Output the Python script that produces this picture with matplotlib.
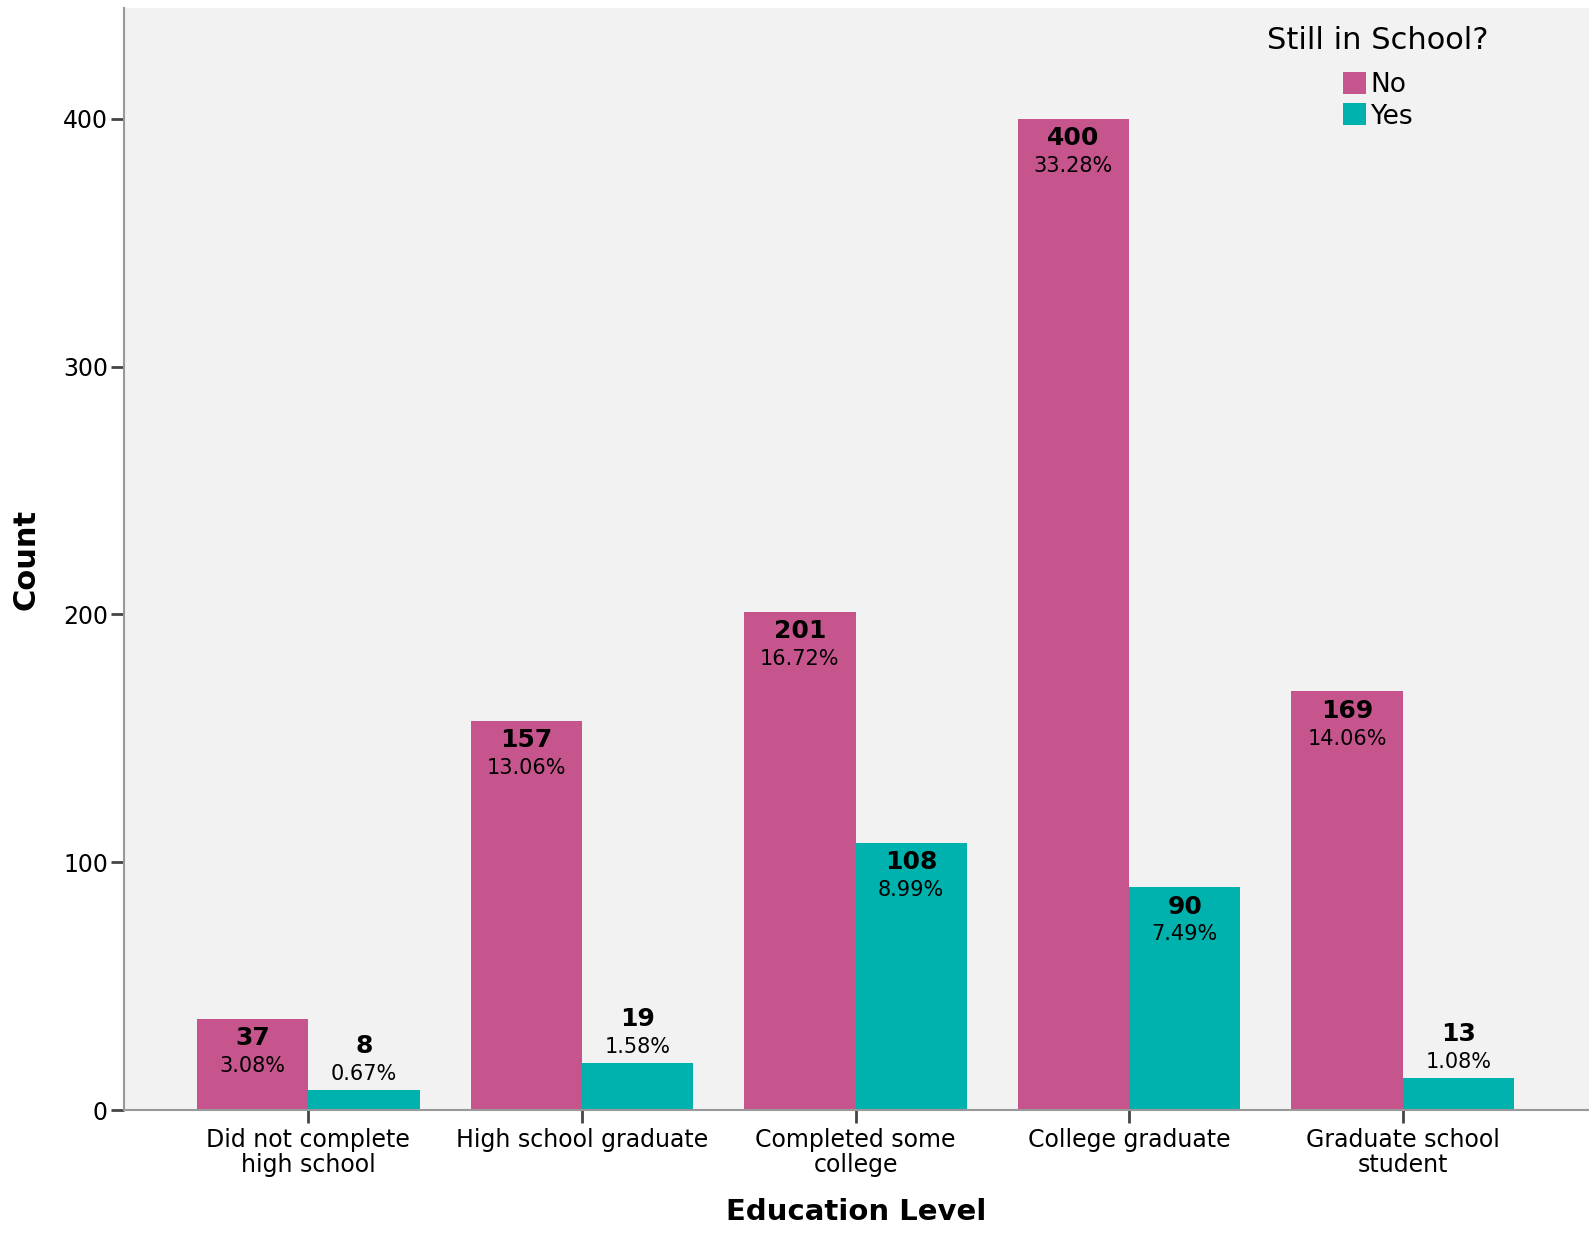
"""
Education level vs still in school - clustered bar chart
"""
import numpy as np
import matplotlib
matplotlib.use('Agg')
import matplotlib.pyplot as plt

categories = ['Did not complete\nhigh school', 'High school graduate',
              'Completed some\ncollege', 'College graduate',
              'Graduate school\nstudent']
groups = ['No', 'Yes']
counts_no = [37, 157, 201, 400, 169]
counts_yes = [8, 19, 108, 90, 13]
pct_no = ['3.08%', '13.06%', '16.72%', '33.28%', '14.06%']
pct_yes = ['0.67%', '1.58%', '8.99%', '7.49%', '1.08%']

colors = ['#C6558D', '#00B2AD']

plt.rcParams['font.family'] = ['DejaVu Sans']

fig = plt.figure(figsize=(15.89, 12.35), dpi=100)
ax = fig.add_axes([0.078, 0.101, 0.922, 0.8925])
ax.set_facecolor('#F2F2F2')

x = np.arange(len(categories))
w = 0.407


def put_labels(bars, counts, pcts):
    for b, c, p in zip(bars, counts, pcts):
        cx = b.get_x() + b.get_width() / 2
        top = b.get_height()
        # short bars get labels above, tall ones inside
        if c < 30:
            off_c, off_p = 32, 11.5
        else:
            off_c, off_p = -14, -34
        ax.annotate(str(c), (cx, top), xytext=(0, off_c), textcoords='offset points',
                    ha='center', va='center', fontsize=18, fontweight='bold')
        ax.annotate(p, (cx, top), xytext=(0, off_p), textcoords='offset points',
                    ha='center', va='center', fontsize=15)


b1 = ax.bar(x - w / 2, counts_no, w, color=colors[0], label=groups[0])
b2 = ax.bar(x + w / 2, counts_yes, w, color=colors[1], label=groups[1])
put_labels(b1, counts_no, pct_no)
put_labels(b2, counts_yes, pct_yes)

ax.set_xlim(-0.674, 4.681)
ax.set_ylim(0, 444.6)
ax.set_yticks([0, 100, 200, 300, 400])
ax.set_xticks(x)
ax.set_xticklabels(categories, fontsize=17, linespacing=1.08)
ax.tick_params(axis='y', labelsize=17, length=9.5, width=2, color='#444444', pad=2)
ax.tick_params(axis='x', length=9.5, width=2, color='#444444', pad=3)

for s in ['top', 'right']:
    ax.spines[s].set_visible(False)
for s in ['left', 'bottom']:
    ax.spines[s].set_color('#999999')
    ax.spines[s].set_linewidth(1.5)

ax.set_xlabel('Education Level', fontsize=21, fontweight='bold', labelpad=15)
ax.set_ylabel('Count', fontsize=22, fontweight='bold', labelpad=16)

leg = ax.legend(title='Still in School?', loc='upper right', bbox_to_anchor=(0.944, 1.0),
                frameon=False, fontsize=19, title_fontsize=22,
                handlelength=0.9, handleheight=0.9, handletextpad=0.15,
                labelspacing=0.2, borderaxespad=0.3)
# more room between the title and the entries
leg._legend_box.sep = 12

fig.savefig('out.png', dpi=100)
